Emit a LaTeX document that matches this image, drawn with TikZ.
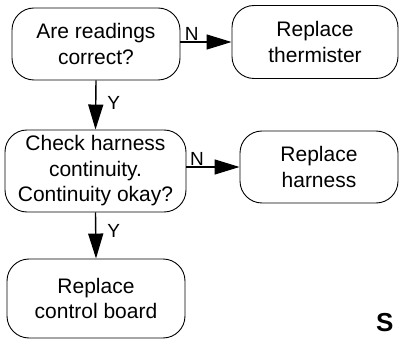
\documentclass[tikz,border=0pt]{standalone}
\usepackage{fontspec}
\setmainfont{Liberation Sans}
\usetikzlibrary{arrows.meta, positioning}

\tikzset{
  stepnode/.style={draw, rounded corners=22pt, line width=0.9pt, align=center,
    font=\fontsize{21}{25.5}\selectfont, inner sep=0pt},
  flow/.style={line width=1.4pt, -{Triangle[length=25pt, width=15pt]}},
  yn/.style={font=\fontsize{19}{21}\selectfont, inner sep=1pt}
}

\begin{document}
\begin{tikzpicture}[x=1pt, y=-1pt]
  \useasboundingbox (0,0) rectangle (399,339);

  % boxes
  \node[stepnode, minimum width=168pt, minimum height=72pt] (readings) at (96,44) {Are readings\\correct?};
  \node[stepnode, minimum width=166pt, minimum height=73pt] (thermistor) at (315,42) {Replace\\thermister};
  \node[stepnode, minimum width=181pt, minimum height=82pt] (harness) at (95.5,171) {Check harness\\continuity.\\Continuity okay?};
  \node[stepnode, minimum width=158pt, minimum height=72pt] (newharness) at (319,167) {Replace\\harness};
  \node[stepnode, minimum width=178pt, minimum height=79pt] (board) at (96,298.5) {Replace\\control board};

  % connectors
  \draw[flow] (readings.east |- 0,42) -- node[yn, above, pos=0.22] {N} (thermistor.west |- 0,42);
  \draw[flow] (readings.south) -- node[yn, right, xshift=10pt, pos=0.45] {Y} (harness.north);
  \draw[flow] (harness.east |- 0,167) -- node[yn, above, pos=0.2] {N} (newharness.west);
  \draw[flow] (harness.south) -- node[yn, right, xshift=10pt, pos=0.4] {Y} (board.north);

  % heading, at the lower right
  \node[anchor=north west, inner sep=0pt, font=\fontsize{26}{28}\selectfont\bfseries] (heading) at (376,313) {S};
\end{tikzpicture}
\end{document}
